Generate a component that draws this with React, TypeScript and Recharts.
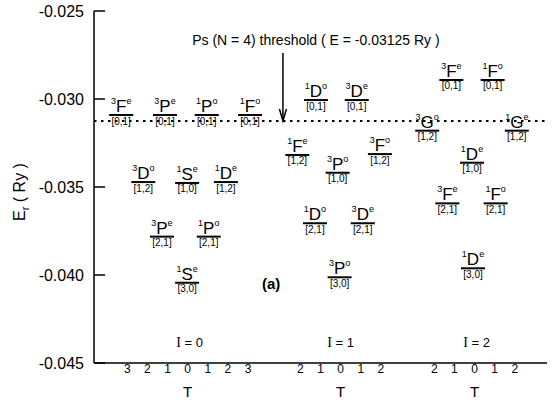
import React from "react";
import { ScatterChart, Scatter, XAxis, YAxis, ReferenceLine, ReferenceDot, Label } from "recharts";

const FONT = "'Liberation Sans', Arial, Helvetica, sans-serif";
const SERIF = "'Liberation Serif', 'Times New Roman', serif";

// energy levels: term symbol, [K,T] label, x position (plot units), energy (Ry)
const levelTerm = [
  "3Fe", "3Pe", "1Po", "1Fo", "3Do", "1Se", "1De", "3Pe", "1Po", "1Se",
  "1Do", "3De", "1Fe", "3Po", "3Fo", "1Do", "3De", "3Po",
  "3Fe", "1Fo", "3Go", "1Ge", "1De", "3Fe", "1Fo", "1De",
];
const levelKT = [
  "[0,1]", "[0,1]", "[0,1]", "[0,1]", "[1,2]", "[1,0]", "[1,2]", "[2,1]", "[2,1]", "[3,0]",
  "[0,1]", "[0,1]", "[1,2]", "[1,0]", "[1,2]", "[2,1]", "[2,1]", "[3,0]",
  "[0,1]", "[0,1]", "[1,2]", "[1,2]", "[1,0]", "[2,1]", "[2,1]", "[3,0]",
];
const levelX = [
  2.7, 7.05, 11.2, 15.5, 4.9, 9.25, 13.1, 6.75, 11.4, 9.25,
  22.05, 26.1, 20.2, 24.2, 28.4, 21.95, 26.7, 24.4,
  35.5, 39.6, 33.1, 42.0, 37.55, 35.1, 39.9, 37.65,
];
const levelE = [
  -0.03091, -0.03091, -0.03091, -0.03091, -0.03472, -0.03477, -0.03472, -0.03782, -0.03782, -0.04044,
  -0.03006, -0.03006, -0.03318, -0.03419, -0.03313, -0.03706, -0.03706, -0.04013,
  -0.02892, -0.02892, -0.0318, -0.0318, -0.03362, -0.03593, -0.03593, -0.03962,
];

// T axis
const tickPos = [3.3, 5.3, 7.3, 9.3, 11.3, 13.3, 15.3, 20.5, 22.5, 24.5, 26.5, 28.5, 33.8, 35.8, 37.8, 39.8, 41.8];
const tickText = ["3", "2", "1", "0", "1", "2", "3", "2", "1", "0", "1", "2", "2", "1", "0", "1", "2"];
const yTicks = [-0.045, -0.04, -0.035, -0.03, -0.025];

// groups
const groupNames = ["0", "1", "2"];
const groupX = [9.5, 24.5, 38.0];
const groupLabelE = -0.0441;

const threshold = -0.03125;
const thresholdText = "Ps (N = 4) threshold ( E = -0.03125 Ry )";
const thresholdTextPos = { x: 22.05, e: -0.02693 };
const arrowX = 18.77;
const arrowTopE = -0.02739;
const panelTag = { text: "(a)", x: 17.6, e: -0.0408 };

const levels = levelTerm.map((term, i) => ({ term, kt: levelKT[i], x: levelX[i], e: levelE[i] }));

function LevelMark(props: any) {
  const { cx, cy, payload } = props;
  const t: string = payload.term;
  return (
    <g>
      <line x1={cx - 12} x2={cx + 12} y1={cy} y2={cy} stroke="#000" strokeWidth={2} />
      <text x={cx} y={cy - 3} textAnchor="middle" fontFamily={FONT} fill="#000">
        <tspan fontSize={9} dy={-8}>{t[0]}</tspan>
        <tspan fontSize={17} dy={8}>{t[1]}</tspan>
        <tspan fontSize={9} dy={-8}>{t[2]}</tspan>
      </text>
      <text x={cx} y={cy + 9.5} textAnchor="middle" fontFamily={FONT} fontSize={10} fill="#000">
        {payload.kt}
      </text>
    </g>
  );
}

function YTick(props: any) {
  const { x, y, payload } = props;
  return (
    <text x={x} y={y} dy={5.5} textAnchor="end" fontSize={16} fontFamily={FONT} fill="#000">
      {Number(payload.value).toFixed(3)}
    </text>
  );
}

function XTick(props: any) {
  const { x, y, payload, index } = props;
  let i = tickPos.indexOf(payload.value);
  if (i < 0) i = index;
  const label = tickText[i];
  return (
    <g>
      <text x={x} y={y} dy={9} textAnchor="middle" fontSize={12} fontFamily={FONT} fill="#000">
        {label}
      </text>
      {label === "0" && (
        <text x={x} y={y} dy={33} textAnchor="middle" fontSize={15} fontFamily={FONT} fill="#000">
          T
        </text>
      )}
    </g>
  );
}

function YTitle(props: any) {
  const vb = props.viewBox || { x: 0, y: 11, width: 94, height: 352 };
  const cx = vb.x + 25;
  const cy = vb.y + vb.height / 2 + 5;
  return (
    <text x={cx} y={cy} transform={`rotate(-90 ${cx} ${cy})`} textAnchor="middle" fontSize={16} fontFamily={FONT} fill="#000">
      E<tspan fontSize={11} dy={4}>r</tspan>
      <tspan dy={-4}> ( Ry )</tspan>
    </text>
  );
}

function Arrow(props: any) {
  const { x1, y1, x2, y2 } = props;
  return (
    <g>
      <line x1={x1} y1={y1} x2={x2} y2={y2} stroke="#000" strokeWidth={1.5} />
      <polyline points={`${x2 - 3.5},${y2 - 12} ${x2},${y2} ${x2 + 3.5},${y2 - 12}`} fill="none" stroke="#000" strokeWidth={1.5} />
    </g>
  );
}

const note = (text: React.ReactNode, size: number, weight: string = "normal") => ({
  content: (p: any) => (
    <text x={p.viewBox.x} y={p.viewBox.y} textAnchor="middle" fontSize={size} fontWeight={weight} fontFamily={FONT} fill="#000">
      {text}
    </text>
  ),
});

export default function App() {
  return (
    <div style={{ position: "absolute", left: 0, top: 0, width: 553, height: 408, background: "#fff" }}>
      <ScatterChart width={553} height={408} margin={{ top: 11, right: 6, bottom: 0, left: 0 }}>
        <XAxis
          type="number"
          dataKey="x"
          domain={[0, 45]}
          ticks={tickPos}
          interval={0}
          height={45}
          tickSize={0}
          tickMargin={1}
          tickLine={false}
          tick={XTick}
          axisLine={{ stroke: "#000", strokeWidth: 1.5 }}
          allowDataOverflow
        />
        <XAxis xAxisId="top" orientation="top" type="number" domain={[0, 45]} height={0} tick={false} tickLine={false} axisLine={{ stroke: "#000", strokeWidth: 1 }} />
        <YAxis
          type="number"
          dataKey="e"
          domain={[-0.045, -0.025]}
          ticks={yTicks}
          interval={0}
          width={94}
          tickSize={6}
          tickMargin={4}
          tickLine={false}
          tick={YTick}
          axisLine={{ stroke: "#000", strokeWidth: 1.5 }}
          allowDataOverflow
        >
          <Label content={YTitle} />
        </YAxis>
        <YAxis yAxisId="right" orientation="right" type="number" domain={[-0.045, -0.025]} width={0} tick={false} tickLine={false} axisLine={{ stroke: "#000", strokeWidth: 1.5 }} />
        {yTicks.map((v) => (
          <ReferenceLine
            key={v}
            segment={[
              { x: 0, y: v },
              { x: 1.1, y: v },
            ]}
            stroke="#000"
            strokeWidth={1.5}
          />
        ))}
        <ReferenceLine y={threshold} stroke="#000" strokeWidth={2} strokeDasharray="2.5 4.5" />
        <ReferenceLine
          segment={[
            { x: arrowX, y: arrowTopE },
            { x: arrowX, y: threshold },
          ]}
          shape={Arrow}
        />
        <ReferenceDot x={thresholdTextPos.x} y={thresholdTextPos.e} r={0} stroke="none" fill="none" label={note(thresholdText, 14)} />
        <ReferenceDot x={panelTag.x} y={panelTag.e} r={0} stroke="none" fill="none" label={note(panelTag.text, 15, "bold")} />
        {groupNames.map((g, i) => (
          <ReferenceDot
            key={g}
            x={groupX[i]}
            y={groupLabelE}
            r={0}
            stroke="none"
            fill="none"
            label={note(
              <>
                <tspan fontFamily={SERIF} fontSize={14}>I</tspan>
                {` = ${g}`}
              </>,
              13
            )}
          />
        ))}
        <Scatter data={levels} isAnimationActive={false} shape={(p: any) => <LevelMark {...p} />} />
      </ScatterChart>
    </div>
  );
}
